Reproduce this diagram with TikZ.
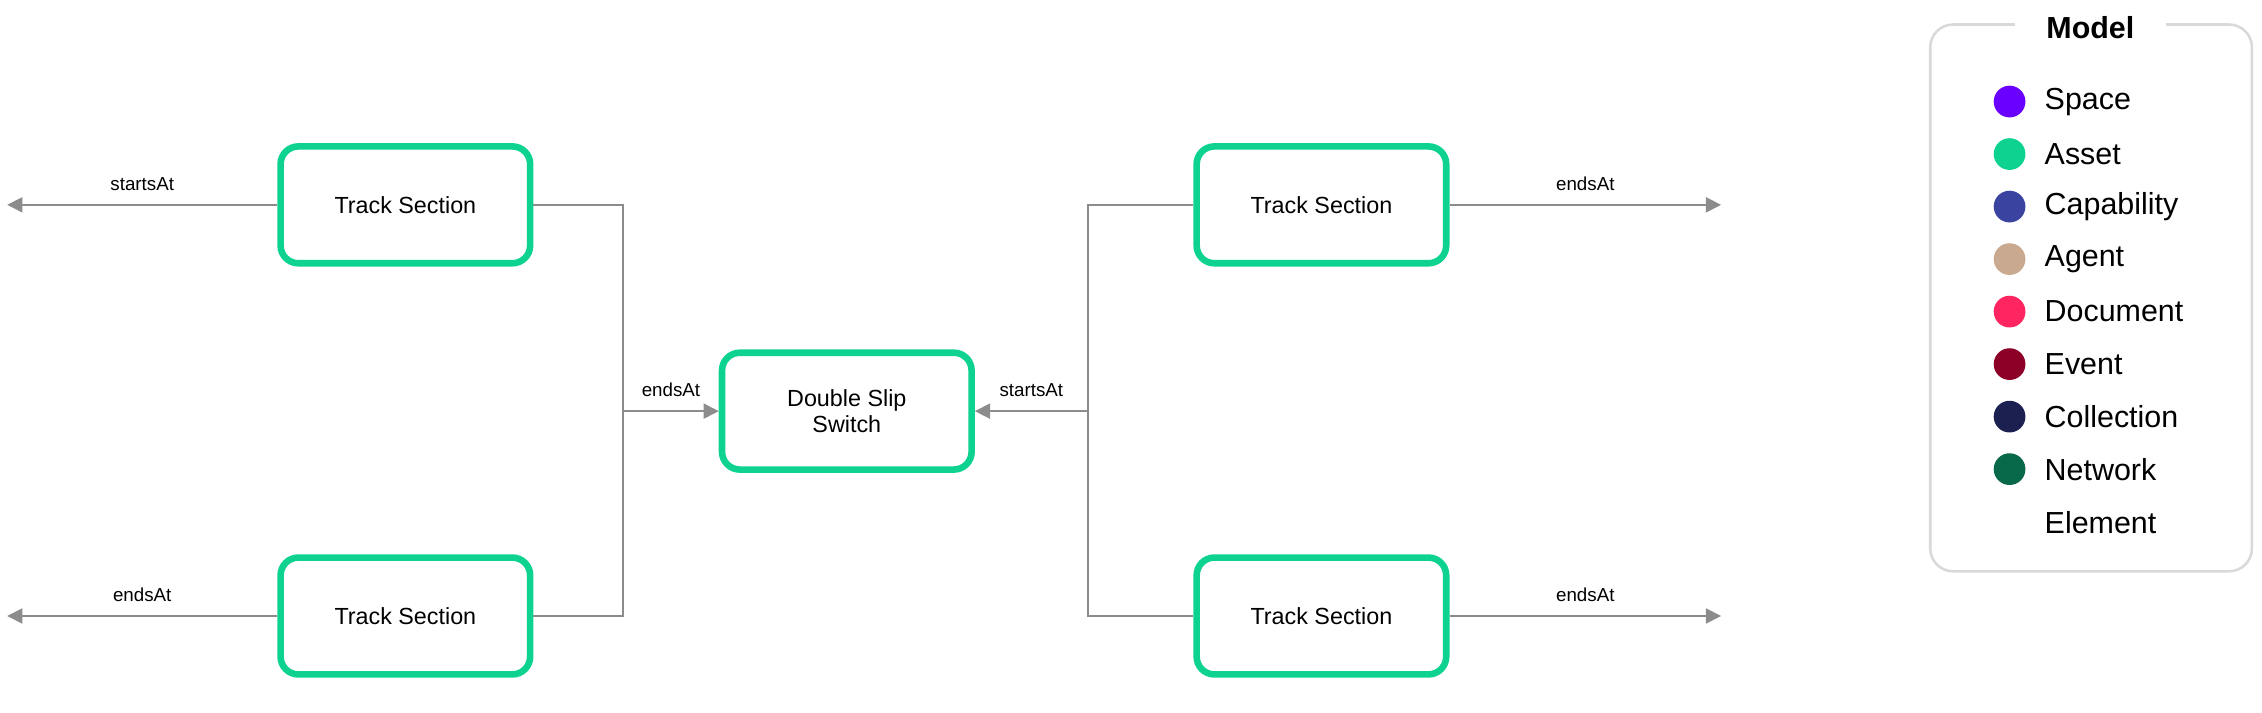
\documentclass[tikz,border=0pt]{standalone}
\usepackage{fontspec}
\setmainfont{Liberation Sans}
\usetikzlibrary{arrows.meta,positioning}
\definecolor{assetgreen}{HTML}{0ED28F}
\definecolor{linkgray}{HTML}{8C8C8C}
\definecolor{legendgray}{HTML}{D9D9D9}
\definecolor{spaceviolet}{HTML}{6A00FF}
\definecolor{capblue}{HTML}{3A44A0}
\definecolor{agenttan}{HTML}{C9A98F}
\definecolor{docpink}{HTML}{FF2560}
\definecolor{eventred}{HTML}{8C0028}
\definecolor{collnavy}{HTML}{1C2050}
\definecolor{netgreen}{HTML}{08684A}

\begin{document}
\begin{tikzpicture}[>={Triangle[length=2.1mm,width=2.1mm]},asset/.style={draw=assetgreen, line width=2.6pt, rounded corners=7pt, fill=white, minimum width=3.46cm, minimum height=1.62cm, align=center, font=\fontsize{9.2}{10.5}\selectfont},
  rel/.style={draw=linkgray, line width=0.6pt},lbl/.style={font=\fontsize{7.4}{9}\selectfont, above=2pt},
  dot/.style={circle, minimum size=0.44cm, inner sep=0pt},legtext/.style={anchor=west, inner sep=0pt, font=\fontsize{12}{14}\selectfont}]
    \useasboundingbox (0,0) rectangle (31.36,-9.88);
    \node [asset] (dss)   at (11.74,-5.70) {Double Slip\\Switch};
    \node [asset] (tsTL)  at (5.62,-2.84)  {Track Section};
    \node [asset] (tsBL)  at (5.62,-8.54)  {Track Section};
    \node [asset] (tsTR)  at (18.32,-2.84) {Track Section};
    \node [asset] (tsBR)  at (18.32,-8.54) {Track Section};
    \coordinate (outTL) at (0.1,-2.84);
    \coordinate (outBL) at (0.1,-8.54);
    \coordinate (outTR) at (23.86,-2.84);
    \coordinate (outBR) at (23.86,-8.54);
    \coordinate (joinL) at (8.64,-5.70);
    \coordinate (joinR) at (15.08,-5.70);
    % outer links
    \path (tsTL) edge[->, rel] node[lbl] {startsAt} (outTL);
    \path (tsBL) edge[->, rel] node[lbl] {endsAt} (outBL);
    \path (tsTR) edge[->, rel] node[lbl] {endsAt} (outTR);
    \path (tsBR) edge[->, rel] node[lbl] {endsAt} (outBR);
    % links into the switch
    \draw[rel] (tsTL.east) -| (joinL) |- (tsBL.east);
    \draw[rel] (tsTR.west) -| (joinR) |- (tsBR.west);
    \path (joinL) edge[->, rel] node[lbl] {endsAt} (dss);
    \path (joinR) edge[->, rel] node[lbl] {startsAt} (dss);
    % legend
    \draw[legendgray, line width=1pt, rounded corners=9pt] (26.76,-0.34) rectangle (31.22,-7.92);
    \node [fill=white, inner xsep=0.44cm, inner ysep=1pt, font=\bfseries\fontsize{12}{14}\selectfont] (legtitle) at (28.98,-0.38) {Model};
    \foreach \col/\name [count=\i] in {spaceviolet/Space, assetgreen/Asset, capblue/Capability, agenttan/Agent, docpink/Document, eventred/Event, collnavy/Collection, netgreen/Network} {
        \node [dot, fill=\col] (dot\i) at (27.86,-0.68-0.728*\i) {};
        \node [legtext] (item\i) at (28.34,-0.68-0.728*\i) {\name};
    }
    \node [legtext] (item9) at (28.34,-7.24) {Element};
\end{tikzpicture}
\end{document}
